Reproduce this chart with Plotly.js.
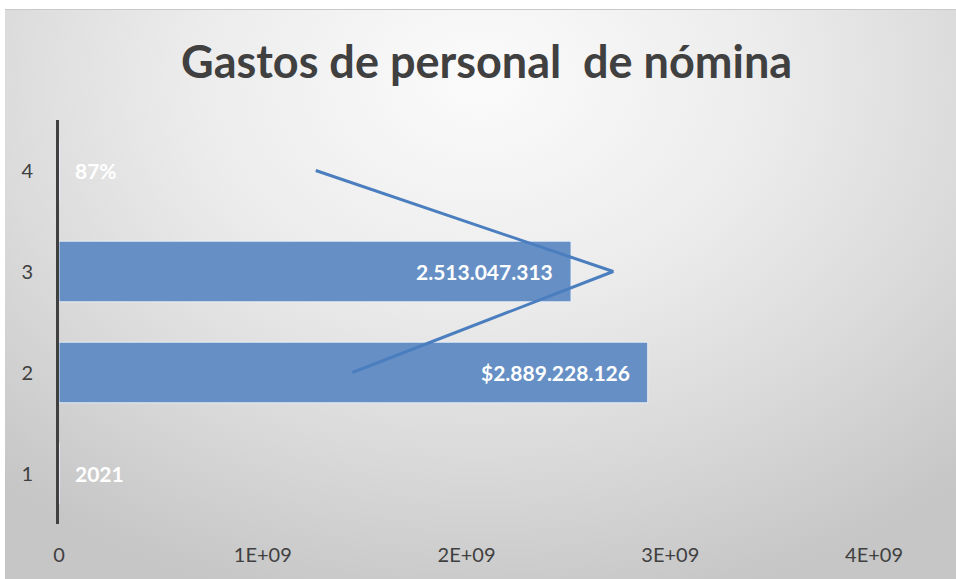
<!DOCTYPE html>
<html>
<head>
<meta charset="utf-8">
<script src="https://cdn.plot.ly/plotly-3.0.1.min.js"></script>
<style>
  html, body { margin: 0; padding: 0; background: #ffffff; }
  #bg { position: absolute; left: 5px; top: 9px; width: 951px; height: 570px;
        border-top: 1px solid #c9c9c9;
        background: radial-gradient(ellipse 75% 95% at 50% 12%, #fbfbfb 0%, #ececec 40%, #dadada 70%, #c6c6c6 100%); }
  #chart { position: absolute; left: 0; top: 0; width: 956px; height: 579px; }
</style>
</head>
<body>
<div id="bg"></div>
<div id="chart"></div>
<script>
// ---- data ----
const categories = [1, 2, 3, 4];
const barValues = [2021, 2889228126, 2513047313, 0.87];
const barLabels = ['2021', '$2.889.228.126', '2.513.047.313', '87%'];
const lineCategories = [4, 3, 2];
const lineValues = [1.26e9, 2.72e9, 1.44e9];
const xTickVals = [0, 1e9, 2e9, 3e9, 4e9];
const xTickText = ['0', '1E+09', '2E+09', '3E+09', '4E+09'];
const yTickText = ['1', '2', '3', '4'];
const chartTitle = 'Gastos de personal  de nómina';

const FONT = 'Lato, "Open Sans", sans-serif';

const traces = [
  {
    type: 'bar',
    orientation: 'h',
    y: categories,
    x: barValues,
    width: 0.6,
    marker: { color: '#6690c5', line: { color: 'rgba(235,242,250,0.9)', width: 1 } },
    hoverinfo: 'skip',
    showlegend: false
  },
  {
    type: 'scatter',
    mode: 'lines',
    y: lineCategories,
    x: lineValues,
    line: { color: '#4a7ebf', width: 3 },
    hoverinfo: 'skip',
    showlegend: false
  }
];

const annotations = categories.map((c, i) => {
  const small = barValues[i] < 1e6;
  return {
    x: barValues[i], y: c, xref: 'x', yref: 'y',
    text: '<b>' + barLabels[i] + '</b>',
    showarrow: false,
    xanchor: small ? 'left' : 'right',
    xshift: small ? 14 : -16,
    yanchor: 'middle',
    font: { family: FONT, size: 21, color: '#ffffff' }
  };
});

const layout = {
  width: 956, height: 579,
  paper_bgcolor: 'rgba(0,0,0,0)',
  plot_bgcolor: 'rgba(0,0,0,0)',
  margin: { l: 59, r: 82, t: 120, b: 55 },
  title: {
    text: '<b>' + chartTitle + '</b>',
    x: 0.509, xanchor: 'center', y: 0.893, yanchor: 'middle',
    font: { family: FONT, size: 45, color: '#404040' }
  },
  xaxis: {
    range: [0, 4e9], tickvals: xTickVals, ticktext: xTickText,
    showgrid: false, zeroline: false, showline: false, ticks: '',
    ticklabelstandoff: 17,
    tickfont: { family: FONT, size: 20, color: '#404040' }
  },
  yaxis: {
    range: [0.5, 4.5], tickvals: categories, ticktext: yTickText,
    showgrid: false, zeroline: false, showline: true,
    linecolor: '#404040', linewidth: 3, ticks: '',
    ticklabelstandoff: 19,
    tickfont: { family: FONT, size: 20, color: '#404040' }
  },
  annotations: annotations,
  showlegend: false
};

Plotly.newPlot('chart', traces, layout, { displayModeBar: false, staticPlot: true });
</script>
</body>
</html>
